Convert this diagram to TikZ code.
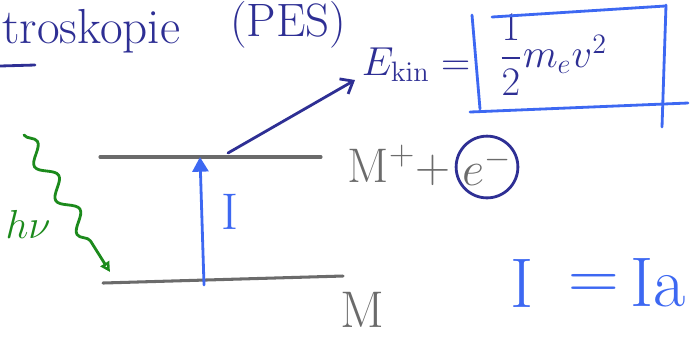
\documentclass[tikz,border=0pt]{standalone}
\usepackage{amsmath}
\usepackage{xcolor}
\usepackage{tikz}
\usetikzlibrary{arrows.meta,positioning,decorations.pathmorphing}
\definecolor{ink}{HTML}{2E2F94}
\definecolor{pen}{HTML}{3D68F2}
\definecolor{leaf}{HTML}{1C8A1C}
\definecolor{lead}{HTML}{6B6B6B}

\begin{document}
\begin{tikzpicture}[x=0.015cm, y=-0.015cm,
    hand/.style={inner sep=0pt, font=\fontsize{22}{26}\selectfont},
    level/.style={draw=lead, line width=1.3pt, line cap=round},
    stroke/.style={line width=1.2pt, line cap=round, line join=round},
]
\useasboundingbox (0,0) rectangle (692,337);
\clip (0,0) rectangle (692,337);

\node[hand, text=ink, anchor=base west, font=\fontsize{21}{25}\selectfont] (title) at (2,43) {troskopie};
\node[hand, text=ink, font=\fontsize{20}{24}\selectfont] (pes) at (288,25) {(PES)};
\draw[ink, stroke] (0,66) -- (35,65);

\node[hand, text=ink, font=\fontsize{17}{20}\selectfont] (ekin) at (416,65) {$E_{\mathrm{kin}}=$};
\node[hand, text=ink, font=\fontsize{17}{20}\selectfont] (half) at (553,55) {$\dfrac{1}{2}m_e v^2$};
\draw[pen, stroke] (472,15) -- (480,109);
\draw[pen, stroke] (492,17) -- (665,6);
\draw[pen, stroke] (666,5) -- (662,127);
\draw[pen, stroke] (470,112) -- (688,103);

\coordinate (u1) at (100,157);
\coordinate (u2) at (321,157);
\coordinate (l1) at (103,283);
\coordinate (l2) at (343,276);
\draw[level] (u1) -- (u2);
\draw[level] (l1) -- (l2);

\coordinate (ilow) at (204,285);
\coordinate (iup) at (200,157);
\draw[pen, stroke, -{Triangle[length=0.22cm, width=0.24cm]}] (ilow) -- (iup);
\node[hand, text=pen] (ilabel) at (230,212) {I};

\coordinate (efrom) at (228,153);
\coordinate (eto) at (355,80);
\draw[ink, stroke, -{Straight Barb[length=0.16cm, width=0.26cm]}] (efrom) -- (eto);

\coordinate (wstart) at (24,135);
\coordinate (wend) at (110,272);
\draw[leaf, stroke, -{Triangle[open, length=0.15cm, width=0.15cm]},
      decorate, decoration={snake, amplitude=0.12cm, segment length=0.6cm, post length=0.3cm}]
      (wstart) -- (wend);
\node[hand, text=leaf, font=\fontsize{18}{22}\selectfont] (hnu) at (28,224) {$h\nu$};

\node[hand, text=lead, anchor=west] (mplus) at (347,165) {$\mathrm{M}^{+}{+}$};
\node[hand, text=lead, circle, draw=ink, line width=1.2pt, minimum size=0.92cm] (elec) at (487,167) {$e^{-}$};
\node[hand, text=lead] (mol) at (362,310) {M};

\node[hand, text=pen, font=\fontsize{30}{34}\selectfont] (ibig) at (522,283) {I};
\node[hand, text=pen, font=\fontsize{30}{34}\selectfont] (eq) at (594,287) {=};
\node[hand, text=pen, anchor=west, font=\fontsize{30}{34}\selectfont] (ia) at (630,283) {Ia};
\end{tikzpicture}
\end{document}
